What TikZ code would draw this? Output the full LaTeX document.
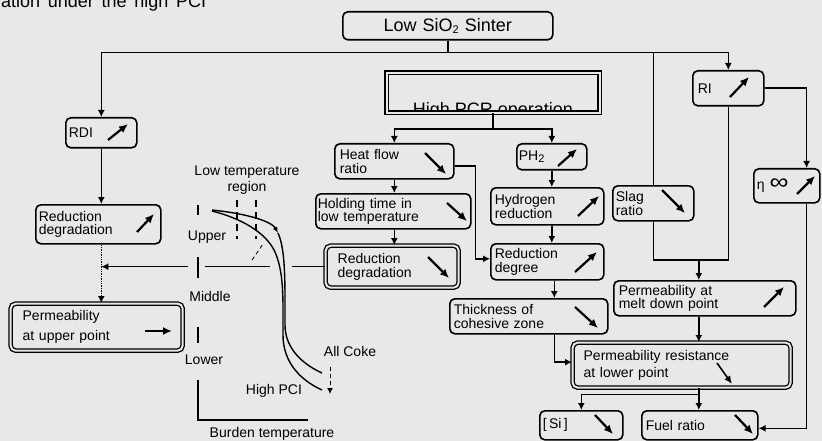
\documentclass[tikz,border=0pt]{standalone}
\usepackage{fontspec}
\setmainfont{Liberation Sans}
\usetikzlibrary{arrows.meta,calc}
\definecolor{bg}{RGB}{232,232,232}
\newcommand\bxf{\fontsize{14}{13.5}\selectfont}
\newcommand\bigf{\fontsize{18}{18}\selectfont}
\newcommand\subtwo{\raisebox{-2pt}{\fontsize{11}{11}\selectfont 2}}
\begin{document}
\begin{tikzpicture}[x=1pt,y=-1pt,
  box/.style={draw, line width=1.6pt, rounded corners=5pt, anchor=north west, inner xsep=3pt, inner ysep=0pt, align=left, font=\bxf},
  dbox/.style={box, double=bg, double distance=2pt, line width=1.3pt},
  ln/.style={line width=1.6pt},
  arr/.style={line width=1.6pt, -{Latex[length=7pt,width=7pt]}},
  dotarr/.style={line width=1.4pt, densely dotted, -{Latex[length=7pt,width=7pt]}},
  icon/.style={line width=2.2pt, -{Latex[length=9pt,width=8pt]}},
  chart/.style={line width=1.4pt},
  lbl/.style={font=\bxf, inner sep=0pt}]
\fill[bg] (0,0) rectangle (822,441);
\useasboundingbox (0,0) rectangle (822,441);

% cut caption at top
\begin{scope}
\clip (0,0) rectangle (822,441);
\node[anchor=base west, inner sep=0pt, font=\bigf] (cap) at (1,8) {\makebox[205pt][s]{ation under the high PCI}};
\end{scope}

% boxes
\node[box, align=center, font=\bigf, text width=204pt, minimum height=28pt] (sinter) at (342,11) {Low SiO\subtwo{} Sinter};
\begin{scope}
\clip (386,72) rectangle (599,111);
\node[anchor=base, inner sep=0pt, font=\bigf] (hpcrt) at (493,116) {High PCR operation};
\end{scope}
\node[dbox, sharp corners, minimum width=213pt, minimum height=40pt] (hpcr) at (386,72) {};

\node[box, text width=65pt, minimum height=30pt] (rdi) at (65,117) {RDI};
\node[box, inner xsep=5pt, text width=61pt, minimum height=35pt] (ri) at (692,70) {RI};
\node[box, text width=60pt, minimum height=34pt] (eta) at (753,168) {η\hspace{5pt}\scalebox{1.9}[1.6]{∞}};
\node[box, inner xsep=5pt, text width=109pt, minimum height=35pt] (heat) at (334,143) {Heat flow\\ratio};
\node[box, inner xsep=2pt, text width=66pt, minimum height=26pt] (ph2) at (516,143) {PH\subtwo};
\node[box, inner xsep=2pt, text width=151pt, minimum height=35pt] (hold) at (315,193) {Holding time in\\low temperature};
\node[box, inner xsep=4pt, text width=105pt, minimum height=37pt] (hyd) at (490,187) {Hydrogen\\reduction};
\node[box, text width=75pt, minimum height=35pt] (slag) at (612,185) {Slag\\ratio};
\node[dbox, inner xsep=12pt, text width=109pt, minimum height=42pt] (rdm) at (325,245) {Reduction\\degradation};
\node[box, inner xsep=4pt, text width=105pt, minimum height=36pt] (rdeg) at (490,243) {Reduction\\degree};
\node[box, text width=119pt, minimum height=39pt] (rdl) at (35,204) {Reduction\\degradation};
\node[dbox, inner xsep=12pt, text width=148pt, minimum height=47pt, font=\fontsize{14}{20}\selectfont] (pu) at (10,303) {Permeability\\at upper point};
\node[box, inner xsep=5pt, text width=172pt, minimum height=35pt] (melt) at (613,280) {Permeability at\\melt down point};
\node[box, inner xsep=4pt, text width=150pt, minimum height=35pt] (thick) at (449,298) {Thickness of\\cohesive zone};
\node[dbox, inner xsep=11pt, text width=196pt, minimum height=45pt, font=\fontsize{14}{17}\selectfont] (pres) at (572,342) {Permeability resistance\\at lower point};
\node[box, text width=77pt, minimum height=29pt] (si) at (539,410) {[\,Si\,]};
\node[box, inner xsep=4pt, text width=108pt, minimum height=29pt] (fuel) at (641,410) {Fuel ratio};

% icons
\draw[icon] (108,140) -- (128,124);
\draw[icon] (137,232) -- (154,214);
\draw[icon] (145,331) -- (172,331);
\draw[icon] (425,153) -- (446,174);
\draw[icon] (447,203) -- (467,221);
\draw[icon] (428,257) -- (449,278);
\draw[icon] (558,166) -- (577,149);
\draw[icon] (578,216) -- (599,196);
\draw[icon] (662,190) -- (685,213);
\draw[icon] (575,272) -- (597,252);
\draw[icon] (575,307) -- (598,328);
\draw[icon] (764,307) -- (784,287);
\draw[line width=1.6pt, -{Latex[length=8pt,width=7pt]}] (717,363) -- (732,384);
\draw[icon] (595,415) -- (613,434);
\draw[icon] (735,415) -- (753,434);
\draw[icon] (730,97) -- (749,77);
\draw[icon] (797,194) -- (815,176);

% connectors
\draw[ln] (sinter.south) -- ++(0,12) coordinate (j1);
\draw[arr] (j1) -| (rdi.north);
\draw[arr] (j1) -| (ri.north);
\draw[ln] (j1) -| (slag.north);
\coordinate (m1) at ($(melt.north)+(-6,-20)$);
\draw[ln] (slag.south) |- (m1) -| (ri.south);
\draw[arr] (m1) -- (m1 |- melt.north);
\draw[arr] (ri.east) -| ($(eta.north east)+(-14,0)$);
\draw[arr] ($(eta.south east)+(-14,0)$) |- ($(fuel.east)+(0,3)$);

\draw[ln] (hpcr.south) -- ++(0,16) coordinate (j2);
\draw[arr] (j2) -| (heat.north);
\draw[arr] (j2) -| (ph2.north);
\draw[arr] (heat.south) -- (heat.south |- hold.north);
\draw[arr] (heat.south |- hold.south) -- (heat.south |- rdm.north);
\draw[arr] ($(heat.east)+(0,5)$) -- ++(21,0) |- ($(rdeg.west)+(0,-3)$);
\draw[arr] (ph2.south) -- (ph2.south |- hyd.north);
\draw[arr] (ph2.south |- hyd.south) -- (ph2.south |- rdeg.north);
\coordinate (cx) at ($(rdeg.south)+(7,0)$);
\draw[arr] (cx) -- (cx |- thick.north);
\draw[arr] (cx |- thick.south) |- ($(pres.west)+(0,-3)$);
\coordinate (cy) at (m1 |- melt.south);
\draw[arr] (cy) -- (cy |- pres.north);
\draw[ln] (cy |- pres.south) -- ++(0,6) coordinate (j3);
\draw[arr] (j3) -| (si.north);
\draw[arr] (j3) -- (j3 |- fuel.north);

\draw[arr] (rdi.south) -- (rdi.south |- rdl.north);
\draw[dotarr] (rdi.south |- rdl.south) -- (rdi.south |- pu.north);
\draw[arr, dash pattern=on 33pt off 22pt on 65pt off 17pt on 90pt] (rdm.west) -- (rdi.south |- rdm.west);

% chart
\draw[chart] (198,205) -- (198,215);
\draw[chart] (198,257) -- (198,278);
\draw[chart] (198,327) -- (198,343);
\draw[chart] (198,380) -- (198,420) -- (308,420);
\draw[line width=1.2pt, dash pattern=on 7pt off 5pt] (237,200) -- (237,239);
\draw[line width=1.2pt, dash pattern=on 7pt off 5pt] (256,200) -- (256,239);
\draw[line width=0.8pt, dash pattern=on 4pt off 3pt] (252,260) -- (263,244);
\draw[chart, -{Latex[length=6pt,width=5pt]}] (212,210) .. controls (250,214) and (272,222) .. (278,233);
\draw[chart] (278,233) .. controls (284,246) and (285,270) .. (285,300) -- (285,325) .. controls (285,345) and (298,362) .. (322,373);
\draw[chart] (212,211) .. controls (240,218) and (266,232) .. (275,252) .. controls (282,268) and (283,288) .. (283,310) -- (283,335) .. controls (283,362) and (300,380) .. (322,390);
\draw[line width=1pt, dash pattern=on 4pt off 3pt, -{Latex[length=6pt,width=6pt]}] (330,367) -- (330,394);

\node[lbl, align=center, font=\fontsize{14}{16}\selectfont] (ltr) at (247,180) {Low temperature\\region};
\node[lbl] (upper) at (207,237) {Upper};
\node[lbl] (middle) at (210,296) {Middle};
\node[lbl] (lower) at (204,360) {Lower};
\node[lbl] (allcoke) at (350,351) {All Coke};
\node[lbl] (highpci) at (274,391) {High PCI};
\node[lbl] (burden) at (272,434) {Burden temperature};
\end{tikzpicture}
\end{document}
